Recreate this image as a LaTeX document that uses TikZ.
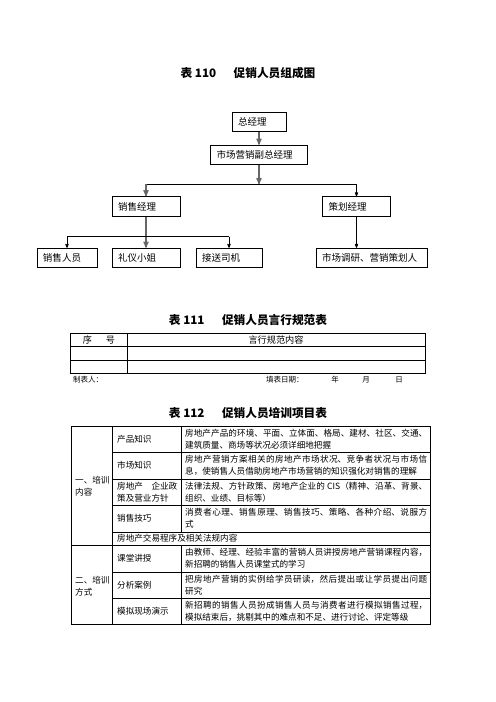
\documentclass[tikz,border=0pt]{standalone}
\usepackage{fontspec}
\setmainfont{Noto Sans CJK SC}
\usetikzlibrary{arrows}
\usetikzlibrary{positioning}
\XeTeXlinebreaklocale "zh"
\XeTeXlinebreakskip=0pt plus 1pt

\begin{document}
\begin{tikzpicture}[x=1.2pt,y=-1.2pt,>=stealth',on grid,
	post/.style={draw,line width=0.9pt,inner xsep=7.2pt,inner ysep=0pt,minimum height=23.5pt,text width=#1,align=left,font=\fontsize{11.4}{13}\selectfont},
	trunk/.style={draw=black!60,line width=1.6pt},
	twig/.style={draw,line width=0.8pt},
	rule/.style={line width=0.8pt},
	title/.style={inner sep=0pt,font=\fontsize{14}{16}\selectfont\bfseries},
	cell/.style={anchor=west,inner sep=0pt,align=left,font=\fontsize{10.3}{14.4}\selectfont},
	para/.style={cell,text width=290.4pt,align=justify},
	note/.style={anchor=west,inner sep=0pt,font=\fontsize{9}{10}\selectfont}]
	\useasboundingbox (0,0) rectangle (496,702);

	% table 110
	\node[title] (t110) at (248,73) {表 110\hspace{1.5em}促销人员组成图};
	\node[post=50.4pt] (zjl) at (259,122) {总经理};
	\node[post=102pt] (fzjl) [below=39.6pt of zjl] {市场营销副总经理};
	\node[post=67.2pt] (xsjl) [below left=61.8pt and 135.6pt of fzjl] {销售经理};
	\node[post=67.2pt] (chjl) [below right=61.8pt and 117pt of fzjl] {策划经理};
	\node[post=67.2pt] (lyxj) [below=61.8pt of xsjl] {礼仪小姐};
	\node[post=57.6pt] (xsry) [left=94.8pt of lyxj] {销售人员};
	\node[post=64.8pt] (jssj) [right=99.6pt of lyxj] {接送司机};
	\node[post=118.8pt] (scdy) [right=171pt of jssj] {市场调研、营销策划人};
	\coordinate[below=22.8pt of fzjl.south] (jn);
	\coordinate[below=24pt of xsjl.south] (sj);
	\draw[trunk,->] (zjl) -- (fzjl);
	\draw[trunk,->] (fzjl) -- (jn);
	\draw[twig] (xsjl |- jn) -- (chjl |- jn);
	\draw[trunk,->] (xsjl |- jn) -- (xsjl);
	\draw[twig,->] (chjl |- jn) -- (chjl);
	\draw[trunk,->] (xsjl) -- (lyxj);
	\draw[twig] (xsry |- sj) -- (jssj |- sj);
	\draw[twig,->] (xsry |- sj) -- (xsry);
	\draw[twig,->] (jssj |- sj) -- (jssj);
	\draw[twig,->] (chjl) -- (chjl |- scdy.north);

	% table 111
	\node[title] (t111) at (248,320) {表 111\hspace{1.5em}促销人员言行规范表};
	\draw[rule] (70,333) rectangle (425,373);
	\draw[rule] (70,346.7) -- (425,346.7) (70,360) -- (425,360) (127,333) -- (127,373);
	\node[cell,anchor=center,font=\fontsize{11}{12}\selectfont] (hnum) at (99,340) {序\hspace{1.5em}号};
	\node[cell,anchor=center,font=\fontsize{11}{12}\selectfont] (hrule) at (276,340) {言行规范内容};
	\node[note] (maker) at (73,380) {制表人：};
	\node[note] (date) at (266,380) {填表日期：};
	\node[note,anchor=center] (year) at (335,380) {年};
	\node[note,anchor=center] (month) at (366,380) {月};
	\node[note,anchor=center] (day) at (399,380) {日};

	% table 112
	\node[title] (t112) at (248,413) {表 112\hspace{1.5em}促销人员培训项目表};
	\draw[rule] (71,426) rectangle (430,624);
	\draw[rule] (112,426) -- (112,624) (181,426) -- (181,532) (181,545) -- (181,624) (71,545) -- (430,545);
	\foreach \y in {452,479,505,532,572,598}
		\draw[rule] (112,\y) -- (430,\y);
	\node[cell] (ga) at (75,486) {一、培训\\内容};
	\node[cell] (gb) at (75,586) {二、培训\\方式};
	\node[cell] (r1b) at (117,439) {产品知识};
	\node[cell] (r2b) at (117,465.5) {市场知识};
	\node[cell] (r3b) at (117,492) {房地产　企业政\\策及营业方针};
	\node[cell] (r4b) at (117,518.5) {销售技巧};
	\node[cell] (r5b) at (117,538.5) {房地产交易程序及相关法规内容};
	\node[cell] (r6b) at (117,558.5) {课堂讲授};
	\node[cell] (r7b) at (117,585) {分析案例};
	\node[cell] (r8b) at (117,611) {模拟现场演示};
	\node[para] (r1c) at (185,439) {房地产产品的环境、平面、立体面、格局、建材、社区、交通、\linebreak 建筑质量、商场等状况必须详细地把握};
	\node[para] (r2c) at (185,465.5) {房地产营销方案相关的房地产市场状况、竞争者状况与市场信\linebreak 息，使销售人员借助房地产市场营销的知识强化对销售的理解};
	\node[para] (r3c) at (185,492) {法律法规、方针政策、房地产企业的 CIS（精神、沿革、背景、\linebreak 组织、业绩、目标等）};
	\node[para] (r4c) at (185,518.5) {消费者心理、销售原理、销售技巧、策略、各种介绍、说服方\linebreak 式};
	\node[para] (r6c) at (185,558.5) {由教师、经理、经验丰富的营销人员讲授房地产营销课程内容，\linebreak 新招聘的销售人员课堂式的学习};
	\node[para] (r7c) at (185,585) {把房地产营销的实例给学员研读，然后提出或让学员提出问题\linebreak 研究};
	\node[para] (r8c) at (185,611) {新招聘的销售人员扮成销售人员与消费者进行模拟销售过程，\linebreak 模拟结束后，挑剔其中的难点和不足、进行讨论、评定等级};
\end{tikzpicture}
\end{document}
